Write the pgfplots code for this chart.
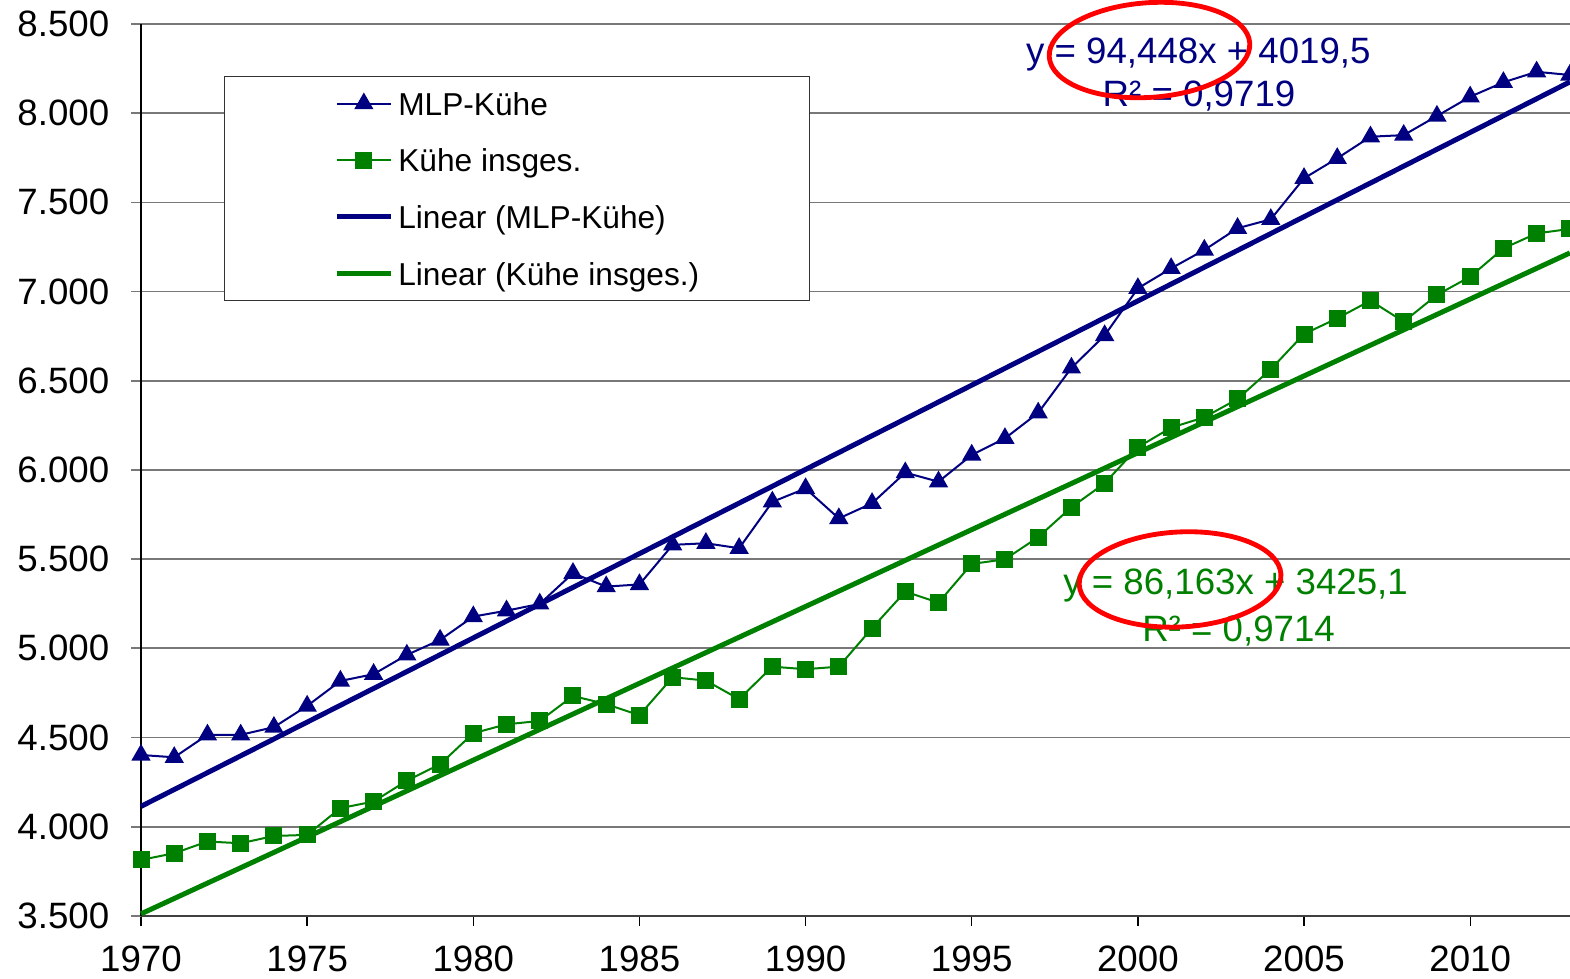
\documentclass[border=0pt]{standalone}
\usepackage{fontspec}
\setmainfont{Liberation Sans}
\usepackage{pgfplots}
\usepackage{pgfplotstable}
\pgfplotsset{compat=1.18}
\definecolor{mlpblue}{RGB}{0,0,128}
\definecolor{kgreen}{RGB}{0,128,0}
\definecolor{gridgray}{RGB}{120,120,120}

\pgfplotstableread{
year mlp kuehe
1970 4402 3814
1971 4389 3851
1972 4515 3917
1973 4515 3907
1974 4558 3948
1975 4677 3954
1976 4817 4104
1977 4855 4141
1978 4963 4258
1979 5047 4350
1980 5178 4524
1981 5211 4574
1982 5249 4593
1983 5421 4733
1984 5346 4687
1985 5358 4625
1986 5580 4838
1987 5589 4819
1988 5561 4715
1989 5821 4897
1990 5896 4883
1991 5728 4897
1992 5813 5113
1993 5985 5318
1994 5934 5256
1995 6084 5473
1996 6177 5499
1997 6320 5623
1998 6572 5791
1999 6754 5925
2000 7018 6127
2001 7130 6237
2002 7233 6295
2003 7355 6398
2004 7405 6564
2005 7635 6762
2006 7747 6850
2007 7868 6949
2008 7877 6831
2009 7984 6981
2010 8092 7083
2011 8173 7242
2012 8232 7326
2013 8214 7351
}\datatable

\begin{document}
\begin{tikzpicture}
\begin{axis}[
  scale only axis,
  width=428.7pt, height=267.6pt,
  xmin=1970, xmax=2013, ymin=3500, ymax=8500,
  axis lines=left,
  axis line style={-},
  x axis line style={-, draw=black!75, line width=0.7pt},
  y axis line style={-, draw=black, line width=0.4pt},
  xtick={1970,1975,...,2010},
  ytick={3500,4000,...,8500},
  ymajorgrids,
  grid style={gridgray, line width=0.5pt},
  tick align=outside,
  major tick length=3pt,
  xtick style={black, line width=0.4pt},
  ytick style={gridgray, line width=0.5pt},
  /pgf/number format/assume math mode=true,
  ticklabel style={font=\fontsize{11}{13}\selectfont},
  yticklabel style={/pgf/number format/1000 sep={.}, xshift=-3pt},
  xticklabel style={/pgf/number format/1000 sep={}, yshift=-2.6pt},
  clip=false,
  legend cell align=left,
  legend image code/.code={\draw[mark repeat=2,mark phase=2,#1] plot coordinates {(0pt,0pt) (8pt,0pt) (16pt,0pt)};},
  legend style={at={(rel axis cs:0.0581,0.9417)}, anchor=north west,
    draw=black!80, line width=0.4pt, fill=white,
    inner xsep=33pt, inner ysep=4.65pt, row sep=10.1pt, column sep=1.6pt,
    font=\fontsize{9.5}{11}\selectfont,
    nodes={text height=6.9pt, text depth=0pt, inner sep=0pt}},
]
\addplot[mlpblue, line width=0.6pt, mark=triangle*, mark size=2.75pt,
  mark options={solid, fill=mlpblue}] table[x=year, y=mlp] {\datatable};
\addlegendentry{MLP-Kühe}
\addplot[kgreen, line width=0.6pt, mark=square*, mark size=2.25pt,
  mark options={solid, fill=kgreen}] table[x=year, y=kuehe] {\datatable};
\addlegendentry{Kühe insges.}
\addplot[mlpblue, line width=1.5pt] coordinates {(1970,4113.9) (2013,8175.2)};
\addlegendentry{Linear (MLP-Kühe)}
\addplot[kgreen, line width=1.5pt] coordinates {(1970,3511.3) (2013,7216.3)};
\addlegendentry{Linear (Kühe insges.)}

\node[mlpblue, anchor=base, inner sep=0pt, font=\fontsize{11}{13}\selectfont] at (axis cs:2001.82,8281) {y = 94,448x + 4019,5};
\node[mlpblue, anchor=base, inner sep=0pt, font=\fontsize{11}{13}\selectfont] at (axis cs:2001.84,8040) {R² = 0,9719};
\node[kgreen, anchor=base, inner sep=0pt, font=\fontsize{11}{13}\selectfont] at (axis cs:2002.94,5299) {y = 86,163x + 3425,1};
\node[kgreen, anchor=base, inner sep=0pt, font=\fontsize{11}{13}\selectfont] at (axis cs:2003.03,5041) {R² = 0,9714};

\draw[red, line width=1.45pt, rotate around={4:(axis cs:2000.35,8354)}] (axis cs:2000.35,8354) ellipse [x radius=30.15pt, y radius=14.2pt];
\draw[red, line width=1.45pt, rotate around={3:(axis cs:2001.27,5386)}] (axis cs:2001.27,5386) ellipse [x radius=30.3pt, y radius=14.25pt];

\coordinate (bbSW) at (rel axis cs:-0.0987,-0.0700);
\coordinate (bbNE) at (rel axis cs:1.0001,1.0269);
\end{axis}
\pgfresetboundingbox
\useasboundingbox (bbSW) rectangle (bbNE);
\end{tikzpicture}
\end{document}
